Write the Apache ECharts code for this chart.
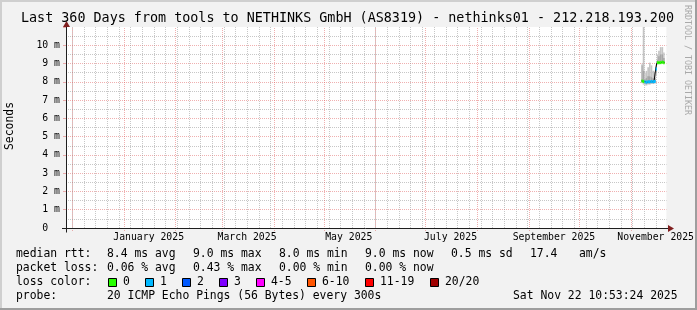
<!DOCTYPE html>
<html><head><meta charset="utf-8">
<script src="https://cdn.jsdelivr.net/npm/echarts@6/dist/echarts.min.js"></script>
<style>html,body{margin:0;padding:0;background:#f2f2f2}#c{width:697px;height:310px}</style>
</head><body><div id="c"></div>
<script>
// ---------------- data ----------------
const titleText = 'Last 360 Days from tools to NETHINKS GmbH (AS8319) - nethinks01 - 212.218.193.200';
const yAxisTitle = 'Seconds';
const watermark = 'RRDTOOL / TOBI OETIKER';
const rangeStart = '2024-11-27T10:53:24Z';
const rangeEnd = '2025-11-22T10:53:24Z';

// consolidated periods (each value holds from its start until the next start)
const periodStarts = ['2025-11-07T12:00:00Z','2025-11-08T06:00:00Z','2025-11-09T06:00:00Z','2025-11-10T00:00:00Z',
  '2025-11-11T00:00:00Z','2025-11-12T00:00:00Z','2025-11-13T00:00:00Z','2025-11-14T00:00:00Z','2025-11-15T00:00:00Z',
  '2025-11-16T00:00:00Z','2025-11-16T18:00:00Z','2025-11-17T12:00:00Z','2025-11-18T12:00:00Z','2025-11-19T12:00:00Z',
  '2025-11-20T12:00:00Z'];
const periodEnd = '2025-11-21T09:00:00Z';
const medianMs   = [8.05, 8.02, 8.00, 7.98, 8.00, 8.00, 8.02, 8.00, 8.02, 8.70, 9.05, 9.05, 9.05, 9.08, 9.05];
const lossLevel  = [0, 0, 1, 1, 1, 1, 1, 1, 1, 1, 0, 0, 0, 0, 0];
const smokeMinMs = [7.92, 7.85, 7.80, 7.80, 7.85, 7.85, 7.88, 7.88, 7.90, 8.30, 8.95, 9.00, 8.98, 9.00, 9.00];
const smokeLowMs = [7.98, 7.95, 7.90, 7.90, 7.92, 7.92, 7.95, 7.95, 7.97, 8.50, 9.00, 9.02, 9.02, 9.05, 9.03];
const smokeHighMs= [8.90, 8.60, 8.15, 8.20, 8.30, 8.30, 8.25, 8.20, 8.20, 8.80, 9.20, 9.40, 9.50, 9.50, 9.30];
const smokeMaxMs = [9.00, 12.0, 8.50, 8.60, 8.80, 9.05, 8.90, 8.60, 8.50, 8.95, 9.50, 9.70, 9.90, 9.90, 9.60];

const yTickLabels = ['0  ','1 m','2 m','3 m','4 m','5 m','6 m','7 m','8 m','9 m','10 m'];
const monthLabels = ['January 2025','March 2025','May 2025','July 2025','September 2025','November 2025'];
const monthLabelTimes = ['2025-01-16T00:00:00Z','2025-03-16T00:00:00Z','2025-05-16T00:00:00Z',
  '2025-07-16T00:00:00Z','2025-09-16T00:00:00Z','2025-11-16T00:00:00Z'];

const rttTitle = 'median rtt:';
const rttStats = ['8.4 ms avg','9.0 ms max','8.0 ms min','9.0 ms now','0.5 ms sd','17.4','am/s'];
const lossTitle = 'packet loss:';
const lossStats = ['0.06 % avg','0.43 % max','0.00 % min','0.00 % now'];
const colorTitle = 'loss color:';
const lossColorNames = ['0','1','2','3','4-5','6-10','11-19','20/20'];
const lossColors = ['#26ff00','#00b8ff','#0059ff','#7e00ff','#ff00ff','#ff5500','#ff0000','#a00000'];
const probeTitle = 'probe:';
const probeText = '20 ICMP Echo Pings (56 Bytes) every 300s';
const stampText = 'Sat Nov 22 10:53:24 2025';

// ---------------- layout / style ----------------
const FONT = '"DejaVu Sans Mono", monospace';
const GL = 66, GT = 27, GW = 602, GH = 201;
const MGRID = 'rgba(222,79,79,0.45)', GRID = 'rgba(143,143,143,0.5)';
const AXIS = '#1f1f1f', ARROW = '#801f1f';

const T = s => new Date(s).getTime();
const tMin = T(rangeStart), tMax = T(rangeEnd);
const bounds = periodStarts.map(T).concat([T(periodEnd)]);
const labelTs = monthLabelTimes.map(T);

// month boundaries & weekly (Sunday) lines, generated like axis ticks
const monthLines = [];
for (let y = 2024, m = 11; ; ) {
  const t = Date.UTC(y, m, 1);
  if (t > tMax) break;
  if (t >= tMin) monthLines.push(t);
  m++; if (m > 11) { m = 0; y++; }
}
const weekLines = [];
{
  const d = new Date(tMin); let t = Date.UTC(d.getUTCFullYear(), d.getUTCMonth(), d.getUTCDate());
  while (new Date(t).getUTCDay() !== 0 || t < tMin) t += 86400000;
  for (; t <= tMax; t += 7 * 86400000) weekLines.push(t);
}

function vLineSeries(times, color, ext, z) {
  return {
    type: 'custom', silent: true, z: z, animation: false,
    data: times.map(t => [t, 0]), encode: { x: 0, y: 1 },
    renderItem(params, api) {
      const cs = params.coordSys;
      const x = Math.round(api.coord([api.value(0), 0])[0]) + 0.5;
      return { type: 'line', shape: { x1: x, y1: Math.round(cs.y + cs.height) + ext, x2: x, y2: Math.round(cs.y) },
        style: { stroke: color, lineWidth: 1, lineDash: [1, 1] } };
    }
  };
}

const smokeData = medianMs.map((_, i) => [bounds[i], bounds[i + 1], smokeMinMs[i], smokeLowMs[i], smokeHighMs[i], smokeMaxMs[i]]);
const smokeSeries = {
  type: 'custom', silent: true, z: 3, animation: false,
  data: smokeData, encode: { x: [0, 1], y: [2, 5] },
  renderItem(params, api) {
    const cs = params.coordSys;
    const clip = { x: cs.x, y: cs.y, width: cs.width, height: cs.height };
    const mk = (lo, hi, fill) => {
      const p1 = api.coord([api.value(0), api.value(hi)]);
      const p2 = api.coord([api.value(1), api.value(lo)]);
      const r = echarts.graphic.clipRectByRect({ x: p1[0], y: p1[1], width: p2[0] - p1[0], height: p2[1] - p1[1] }, clip);
      return r ? { type: 'rect', shape: r, style: { fill: fill } } : null;
    };
    return { type: 'group', children: [mk(2, 5, '#c4c4c4'), mk(3, 4, '#a6a6a6')].filter(Boolean) };
  }
};

const medianLine = medianMs.map((v, i) => [bounds[i], v]).concat([[bounds[medianMs.length], medianMs[medianMs.length - 1]]]);
const lossSegSeries = {
  type: 'custom', silent: true, z: 5, animation: false,
  data: medianMs.map((v, i) => [bounds[i], bounds[i + 1], v, lossLevel[i]]), encode: { x: [0, 1], y: 2 },
  renderItem(params, api) {
    const a = api.coord([api.value(0), api.value(2)]);
    const b = api.coord([api.value(1), api.value(2)]);
    return { type: 'line', shape: { x1: a[0], y1: a[1], x2: b[0], y2: b[1] },
      style: { stroke: lossColors[api.value(3)], lineWidth: 3 } };
  }
};

// ---------------- graphics (text, frame) ----------------
const g = [];
const txt = (x, y, s, size, extra) => g.push(Object.assign({ type: 'text', x: x, y: y, z: 50,
  style: Object.assign({ text: s, font: size + 'px ' + FONT, fill: '#000', textVerticalAlign: 'middle' }, extra || {}) }));
g.push({ type: 'rect', z: 0, shape: { x: 0, y: 0, width: 697, height: 2 }, style: { fill: '#cfcfcf' } });
g.push({ type: 'rect', z: 0, shape: { x: 0, y: 0, width: 2, height: 310 }, style: { fill: '#cfcfcf' } });
g.push({ type: 'rect', z: 0, shape: { x: 695, y: 0, width: 2, height: 310 }, style: { fill: '#9e9e9e' } });
g.push({ type: 'rect', z: 0, shape: { x: 0, y: 308, width: 697, height: 2 }, style: { fill: '#9e9e9e' } });

txt(347.5, 19, titleText, 13.4, { textAlign: 'center' });
g.push({ type: 'text', x: 10, y: 126, rotation: Math.PI / 2, z: 50,
  style: { text: yAxisTitle, font: '11.4px ' + FONT, fill: '#000', textAlign: 'center', textVerticalAlign: 'middle' } });
g.push({ type: 'text', x: 687, y: 60, rotation: -Math.PI / 2, z: 50,
  style: { text: watermark, font: '8.3px ' + FONT, fill: '#a9a9a9', textAlign: 'center', textVerticalAlign: 'middle' } });

const x0 = GL + 0.5, y0 = GT + GH + 0.5, xr = GL + GW;
g.push({ type: 'line', z: 40, shape: { x1: GL - 4, y1: y0, x2: xr + 1, y2: y0 }, style: { stroke: AXIS, lineWidth: 1 } });
g.push({ type: 'line', z: 40, shape: { x1: x0, y1: y0 + 4, x2: x0, y2: GT - 1 }, style: { stroke: AXIS, lineWidth: 1 } });
g.push({ type: 'polygon', z: 41, shape: { points: [[xr, y0 - 3.5], [xr, y0 + 3.5], [xr + 6, y0]] }, style: { fill: ARROW } });
g.push({ type: 'polygon', z: 41, shape: { points: [[x0 - 3.5, GT], [x0 + 3.5, GT], [x0, GT - 6]] }, style: { fill: ARROW } });

const LF = 11.4;
const rttX = [107, 193, 279, 365, 451, 530, 579];
txt(16, 254.5, rttTitle, LF); rttStats.forEach((s, i) => txt(rttX[i], 254.5, s, LF));
txt(16, 268.5, lossTitle, LF); lossStats.forEach((s, i) => txt(rttX[i], 268.5, s, LF));
txt(16, 282.5, colorTitle, LF);
const boxX = [108, 145, 182, 219, 256, 307, 365, 430];
lossColorNames.forEach((s, i) => {
  g.push({ type: 'rect', z: 50, shape: { x: boxX[i] + 0.5, y: 278.5, width: 8, height: 8 }, style: { fill: lossColors[i], stroke: '#000', lineWidth: 1 } });
  txt(boxX[i] + 15, 282.5, s, LF);
});
txt(16, 296.5, probeTitle, LF); txt(107, 296.5, probeText, LF); txt(513, 296.5, stampText, LF);

// ---------------- chart ----------------
const chart = echarts.init(document.getElementById('c'), null, { renderer: 'canvas' });
chart.setOption({
  animation: false, backgroundColor: '#f2f2f2',
  grid: { left: GL, top: GT, width: GW, height: GH, show: true, backgroundColor: '#ffffff', borderWidth: 0 },
  xAxis: {
    type: 'value', min: tMin, max: tMax, scale: true,
    axisLine: { show: false }, axisTick: { show: false }, splitLine: { show: false },
    axisLabel: {
      customValues: labelTs, margin: 4, fontFamily: FONT, fontSize: 9.8, color: '#000',
      formatter: v => { const i = labelTs.indexOf(v); return i >= 0 ? monthLabels[i] : ''; }
    }
  },
  yAxis: {
    type: 'value', min: 0, max: 11, interval: 1,
    axisLine: { show: false },
    axisTick: { show: true, length: 3, lineStyle: { color: MGRID } },
    axisLabel: { margin: 6, fontFamily: FONT, fontSize: 9.8, color: '#000',
      formatter: v => (yTickLabels[v] !== undefined ? yTickLabels[v] : '') },
    splitLine: { show: true, showMaxLine: false, lineStyle: { color: MGRID, type: [1, 1] } },
    minorTick: { show: false, splitNumber: 2 },
    minorSplitLine: { show: true, lineStyle: { color: GRID, type: [1, 1] } }
  },
  graphic: g,
  series: [
    vLineSeries(weekLines, GRID, 0, 1),
    vLineSeries(monthLines, MGRID, 3, 2),
    smokeSeries,
    { type: 'line', data: medianLine, step: 'end', symbol: 'none', z: 4, silent: true,
      lineStyle: { color: '#000', width: 1 } },
    lossSegSeries
  ]
});
</script></body></html>
